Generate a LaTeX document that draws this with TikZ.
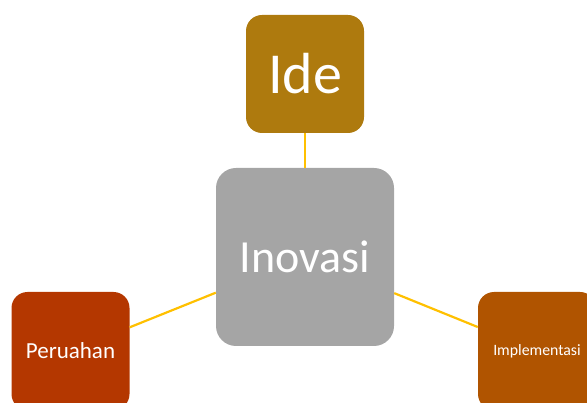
\documentclass[tikz,border=0pt]{standalone}
\usepackage{fontspec}
\setmainfont{Carlito}
\definecolor{ideBrown}{RGB}{174,122,14}
\definecolor{peruRed}{RGB}{180,55,0}
\definecolor{implOrange}{RGB}{176,84,0}
\definecolor{inovGrey}{RGB}{165,165,165}
\definecolor{linkGold}{RGB}{255,192,0}
\begin{document}
\begin{tikzpicture}[
				x=1pt, y=-1pt,
				every node/.style={rectangle, rounded corners=16pt, text=white, minimum width=118pt, minimum height=118pt, inner sep=0},
				link/.style={draw=linkGold, line width=2.2pt},
			]
			\useasboundingbox (0,0) rectangle (587,403);
			\clip (0,0) rectangle (587,403);
			\node[fill=inovGrey, minimum width=178pt, minimum height=178pt, rounded corners=20pt, font=\fontsize{46}{50}\selectfont] (inovasi) at (305,257) {Inovasi};
			\node[fill=ideBrown, font=\fontsize{58}{62}\selectfont] (ide) at (305,74) {Ide};
			\node[fill=peruRed, font=\fontsize{23}{27}\selectfont] (peruahan) at (70.5,351) {Peruahan};
			\node[fill=implOrange, font=\fontsize{15.8}{19}\selectfont] (implementasi) at (537,351) {Implementasi};
				\draw[link] (ide) -- (inovasi);
				\draw[link] (inovasi) -- (peruahan);
				\draw[link] (inovasi) -- (implementasi);
			\end{tikzpicture}
\end{document}
